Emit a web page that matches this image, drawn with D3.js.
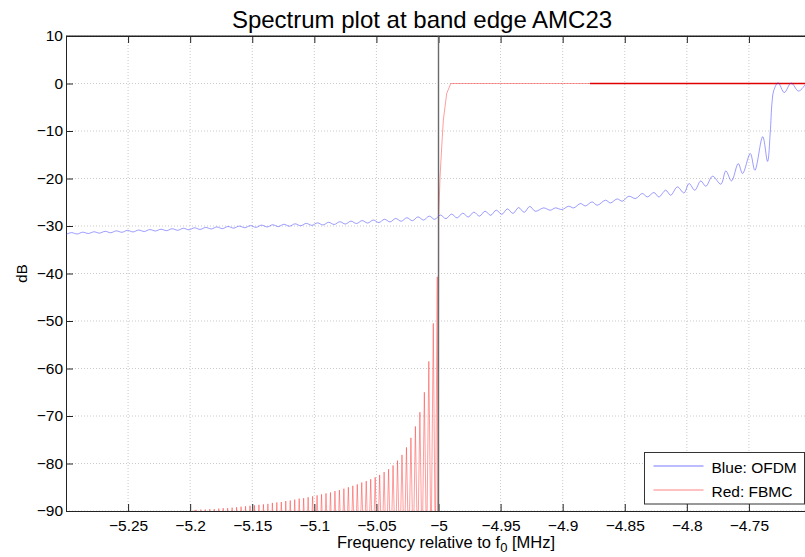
<!DOCTYPE html>
<html>
<head>
<meta charset="utf-8">
<script src="https://cdnjs.cloudflare.com/ajax/libs/d3/7.8.5/d3.min.js"></script>
<style>
  body { margin: 0; background: #fff; }
  text { font-family: "Liberation Sans", Arial, sans-serif; fill: #000; }
</style>
</head>
<body>
<div id="chart"></div>
<script>
// axis ticks
const xTicks = [-5.25, -5.2, -5.15, -5.1, -5.05, -5, -4.95, -4.9, -4.85, -4.8, -4.75];
const yTicks = [10, 0, -10, -20, -30, -40, -50, -60, -70, -80, -90];

// OFDM (blue) spectrum, [MHz, dB]
const ofdm = [
  [-5.3000, -31.75], [-5.2955, -31.40], [-5.2910, -31.68], [-5.2865, -31.30], [-5.2820, -31.58],
  [-5.2775, -31.22], [-5.2730, -31.50], [-5.2685, -31.12], [-5.2640, -31.42], [-5.2595, -31.02],
  [-5.2550, -31.32], [-5.2505, -30.92], [-5.2460, -31.25], [-5.2415, -30.85], [-5.2370, -31.15],
  [-5.2325, -30.75], [-5.2280, -31.05], [-5.2235, -30.68], [-5.2190, -30.98], [-5.2145, -30.58],
  [-5.2100, -30.90], [-5.2055, -30.48], [-5.2010, -30.80], [-5.1965, -30.38], [-5.1920, -30.72],
  [-5.1875, -30.30], [-5.1830, -30.62], [-5.1785, -30.20], [-5.1740, -30.55], [-5.1695, -30.10],
  [-5.1650, -30.45], [-5.1605, -30.02], [-5.1560, -30.36], [-5.1515, -29.92], [-5.1470, -30.28],
  [-5.1425, -29.82], [-5.1380, -30.20], [-5.1335, -29.74], [-5.1290, -30.12], [-5.1245, -29.64],
  [-5.1200, -30.04], [-5.1155, -29.54], [-5.1110, -29.95], [-5.1065, -29.45], [-5.1020, -29.86],
  [-5.0975, -29.34], [-5.0930, -29.78], [-5.0885, -29.22], [-5.0840, -29.68], [-5.0795, -29.10],
  [-5.0750, -29.58], [-5.0705, -28.98], [-5.0660, -29.48], [-5.0615, -28.86], [-5.0570, -29.38],
  [-5.0525, -28.74], [-5.0480, -29.28], [-5.0435, -28.58], [-5.0390, -29.14], [-5.0345, -28.42],
  [-5.0300, -29.00], [-5.0255, -28.26], [-5.0210, -28.88], [-5.0165, -28.08], [-5.0120, -28.75],
  [-5.0075, -27.92], [-5.0030, -28.60], [-4.9985, -27.70], [-4.9940, -28.45], [-4.9895, -27.50],
  [-4.9850, -28.30], [-4.9805, -27.30], [-4.9760, -28.10], [-4.9715, -27.08], [-4.9670, -27.92],
  [-4.9625, -26.88], [-4.9580, -27.75], [-4.9535, -26.66], [-4.9490, -27.55], [-4.9445, -26.40],
  [-4.9400, -27.35], [-4.9355, -26.12], [-4.9310, -27.12], [-4.9265, -25.88], [-4.9220, -26.90],
  [-4.9153, -26.19], [-4.9099, -26.68], [-4.9059, -26.19], [-4.9005, -26.53], [-4.8952, -25.84],
  [-4.8911, -26.19], [-4.8857, -25.27], [-4.8817, -25.77], [-4.8763, -24.93], [-4.8722, -25.63],
  [-4.8655, -24.57], [-4.8615, -25.14], [-4.8561, -24.30], [-4.8520, -24.78], [-4.8467, -23.73],
  [-4.8413, -24.22], [-4.8359, -23.16], [-4.8318, -23.88], [-4.8265, -22.95], [-4.8225, -23.88],
  [-4.8170, -22.47], [-4.8130, -23.52], [-4.8076, -21.77], [-4.8023, -23.04], [-4.7982, -21.06],
  [-4.7936, -22.47], [-4.7888, -20.51], [-4.7847, -21.63], [-4.7793, -19.52], [-4.7726, -21.20],
  [-4.7686, -18.40], [-4.7640, -20.51], [-4.7586, -16.85], [-4.7551, -18.95], [-4.7489, -14.74],
  [-4.7452, -18.26], [-4.7389, -11.20], [-4.7350, -16.40], [-4.7328, -10.20], [-4.7314, -4.00],
  [-4.7300, -1.50], [-4.7265, 0.15], [-4.7215, -1.90], [-4.7160, 0.10], [-4.7100, -1.60],
  [-4.7040, 0.00]
];

// FBMC (red) sidelobe peaks below the band edge
const fbmcLobeF = [
  -5.1950, -5.1914, -5.1878, -5.1842, -5.1806, -5.1770, -5.1734, -5.1698, -5.1662, -5.1626,
  -5.1590, -5.1554, -5.1518, -5.1482, -5.1446, -5.1410, -5.1374, -5.1338, -5.1302, -5.1266,
  -5.1230, -5.1194, -5.1158, -5.1122, -5.1086, -5.1050, -5.1014, -5.0978, -5.0942, -5.0906,
  -5.0870, -5.0834, -5.0798, -5.0762, -5.0726, -5.0690, -5.0654, -5.0618, -5.0582, -5.0546,
  -5.0510, -5.0474, -5.0438, -5.0402, -5.0366, -5.0330, -5.0294, -5.0258, -5.0222, -5.0186,
  -5.0150, -5.0114, -5.0078, -5.0042, -5.0010
];
const fbmcLobeDb = [
  -89.8, -89.7, -89.7, -89.6, -89.6, -89.5, -89.4, -89.4, -89.3, -89.2,
  -89.1, -89.0, -88.9, -88.8, -88.7, -88.6, -88.5, -88.3, -88.2, -88.1,
  -87.9, -87.8, -87.6, -87.4, -87.3, -87.1, -86.9, -86.7, -86.5, -86.3,
  -86.1, -85.8, -85.6, -85.3, -85.0, -84.7, -84.4, -84.0, -83.7, -83.3,
  -82.9, -82.4, -81.8, -81.2, -80.4, -79.4, -78.2, -76.6, -74.6, -72.2,
  -69.2, -65.0, -58.5, -50.5, -40.7
];
const fbmcNullDb = -100;
// FBMC main lobe and passband
const fbmcMain = [
  [-4.9998, -28.0], [-4.9988, -19.9], [-4.9974, -13.3], [-4.9961, -7.7],
  [-4.9934, -2.1], [-4.9901, 0.0], [-4.7000, 0.0]
];
// darker overlapping stretch of the 0 dB line
const fbmcFlat = [[-4.8780, 0.0], [-4.7000, 0.0]];
const bandEdge = -5;

const legendItems = ["Blue: OFDM", "Red: FBMC"];
const legendColors = ["#2020ff", "#ff3030"];

const width = 805, height = 557;
const plotLeft = 66, plotRight = 811, plotTop = 36, plotBottom = 511;

const svg = d3.select("#chart")
  .append("svg")
    .attr("width", width)
    .attr("height", height);

const x = d3.scaleLinear().domain([-5.3, -4.7]).range([plotLeft, plotRight]);
const y = d3.scaleLinear().domain([-90, 10]).range([plotBottom, plotTop]);

svg.append("clipPath").attr("id", "plotClip")
  .append("rect")
    .attr("x", plotLeft).attr("y", plotTop)
    .attr("width", plotRight - plotLeft).attr("height", plotBottom - plotTop);

// grid
const grid = svg.append("g").attr("stroke", "#bdbdbd").attr("stroke-width", 0.8)
  .attr("stroke-dasharray", "1,2");
xTicks.forEach(function(t) {
  grid.append("line").attr("x1", x(t)).attr("x2", x(t)).attr("y1", plotTop).attr("y2", plotBottom);
});
yTicks.forEach(function(t) {
  grid.append("line").attr("x1", plotLeft).attr("x2", plotRight).attr("y1", y(t)).attr("y2", y(t));
});

// axes (MATLAB style, ticks inward)
const xAxis = d3.axisBottom(x).tickValues(xTicks).tickSizeInner(-7).tickSizeOuter(0)
  .tickPadding(9).tickFormat(d3.format("~g"));
const yAxis = d3.axisLeft(y).tickValues(yTicks).tickSizeInner(-7).tickSizeOuter(0)
  .tickPadding(3).tickFormat(d3.format("~g"));

svg.append("g").attr("transform", "translate(0," + plotBottom + ")").call(xAxis);
svg.append("g").attr("transform", "translate(" + plotLeft + ",0)").call(yAxis);
svg.append("g").attr("transform", "translate(0," + plotTop + ")")
  .call(d3.axisTop(x).tickValues(xTicks).tickSizeInner(-7).tickSizeOuter(0).tickFormat(""));

svg.selectAll(".domain").attr("stroke", "#222");
svg.selectAll(".tick line").attr("stroke", "#222");
svg.selectAll(".tick text").attr("font-size", 15.5).attr("fill", "#000")
  .attr("font-family", "Liberation Sans, Arial, sans-serif");

const plot = svg.append("g").attr("clip-path", "url(#plotClip)");

const line = d3.line().x(d => x(d[0])).y(d => y(d[1]));
const smoothLine = d3.line().x(d => x(d[0])).y(d => y(d[1])).curve(d3.curveCatmullRom.alpha(0.5));

// red path: nulls between the sidelobe peaks, then main lobe
let fbmcPath = [[-5.3, fbmcNullDb]];
fbmcLobeF.forEach(function(f, i) {
  fbmcPath.push([f, fbmcLobeDb[i]]);
  let next = i + 1 < fbmcLobeF.length ? fbmcLobeF[i + 1] : fbmcMain[0][0];
  fbmcPath.push([(f + next) / 2, fbmcNullDb]);
});
fbmcPath = fbmcPath.concat(fbmcMain);

plot.append("path")
  .datum(fbmcPath)
  .attr("d", line)
  .attr("fill", "none")
  .attr("stroke", "#ff3030")
  .attr("stroke-opacity", 0.6)
  .attr("stroke-width", 0.8);

plot.append("path")
  .datum(fbmcFlat)
  .attr("d", line)
  .attr("fill", "none")
  .attr("stroke", "#e00000")
  .attr("stroke-width", 1.6);

plot.append("path")
  .datum(ofdm)
  .attr("d", smoothLine)
  .attr("fill", "none")
  .attr("stroke", "#3030ff")
  .attr("stroke-opacity", 0.6)
  .attr("stroke-width", 0.8);

// band edge marker
plot.append("line")
  .attr("x1", x(bandEdge)).attr("x2", x(bandEdge))
  .attr("y1", y(10)).attr("y2", y(-90))
  .attr("stroke", "#6a6a6a")
  .attr("stroke-width", 1.4);

// top border line
svg.append("line").attr("x1", plotLeft).attr("x2", plotRight).attr("y1", plotTop).attr("y2", plotTop)
  .attr("stroke", "#222");

// titles
svg.append("text")
  .attr("x", 422).attr("y", 28)
  .attr("text-anchor", "middle")
  .attr("font-size", 24)
  .text("Spectrum plot at band edge AMC23");

svg.append("text")
  .attr("transform", "translate(27," + ((plotTop + plotBottom) / 2) + ") rotate(-90)")
  .attr("text-anchor", "middle")
  .attr("font-size", 15)
  .text("dB");

const xlab = svg.append("text")
  .attr("x", 446).attr("y", 548)
  .attr("text-anchor", "middle")
  .attr("font-size", 16.5);
xlab.append("tspan").text("Frequency relative to f");
xlab.append("tspan").attr("dy", 4).attr("font-size", 13).text("0");
xlab.append("tspan").attr("dy", -4).text(" [MHz]");

// legend
const legend = svg.append("g").attr("transform", "translate(644.5,452.5)");
legend.append("rect")
  .attr("width", 160).attr("height", 51.5)
  .attr("fill", "#fff").attr("stroke", "#333").attr("stroke-width", 1);
legendItems.forEach(function(name, i) {
  legend.append("line")
    .attr("x1", 9).attr("x2", 59)
    .attr("y1", 13.5 + i * 24).attr("y2", 13.5 + i * 24)
    .attr("stroke", legendColors[i])
    .attr("stroke-opacity", 0.6)
    .attr("stroke-width", 1);
  legend.append("text")
    .attr("x", 67).attr("y", 20.5 + i * 24)
    .attr("font-size", 15.5)
    .text(name);
});
</script>
</body>
</html>
